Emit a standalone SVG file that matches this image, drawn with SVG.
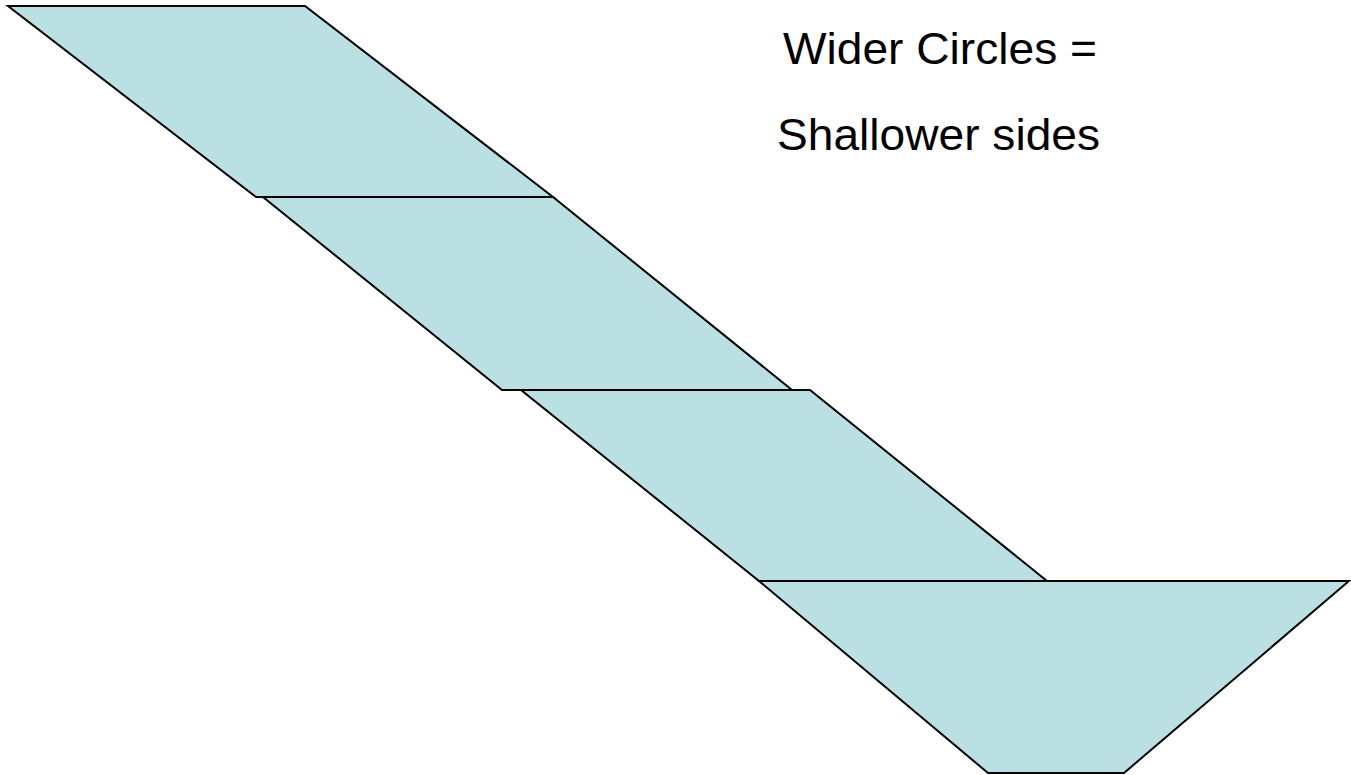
<svg xmlns="http://www.w3.org/2000/svg" width="1351" height="775" viewBox="0 0 1351 775">
<style>
.band{fill:#BBE0E3;stroke:#000;stroke-width:2;stroke-linejoin:miter}
.lbl{font-family:"Liberation Sans",Arial,sans-serif;font-size:44px;fill:#000}
</style>
<rect width="1351" height="775" fill="#fff"/>
<g id="band1"><polygon class="band" points="8,6 305,6 553,197 256,197"/></g>
<g id="band2"><polygon class="band" points="263,197 553,197 792,390 502,390"/></g>
<g id="band3"><polygon class="band" points="521,390 810,390 1047,581 759,581"/></g>
<g id="band4"><polygon class="band" points="759,581 1349,581 1124,773 988,773"/></g>
<g id="label">
<text class="lbl" x="783" y="64" textLength="314" lengthAdjust="spacingAndGlyphs">Wider Circles =</text>
<text class="lbl" x="777" y="150" textLength="323" lengthAdjust="spacingAndGlyphs">Shallower sides</text>
</g>
</svg>
